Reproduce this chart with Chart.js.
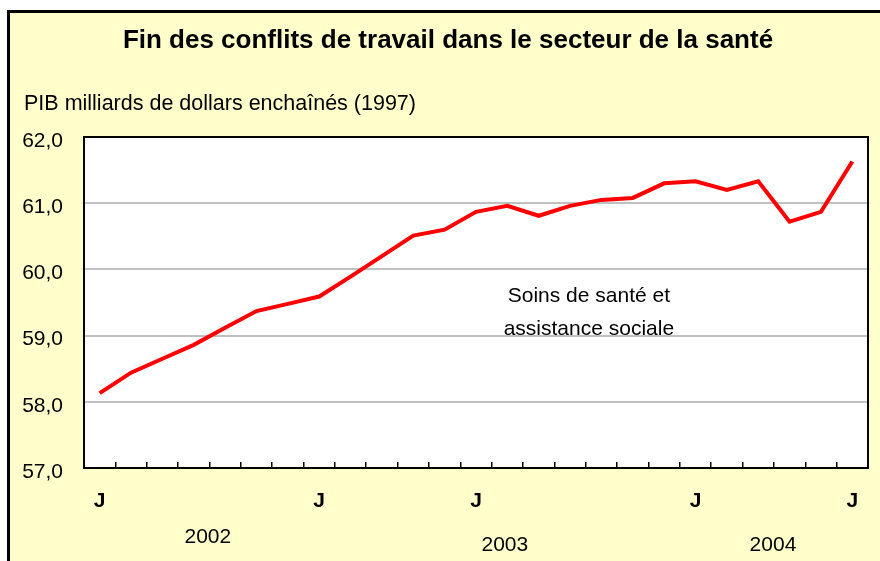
<!DOCTYPE html>
<html>
<head>
<meta charset="utf-8">
<script src="https://cdn.jsdelivr.net/npm/chart.js@4.4.0/dist/chart.umd.min.js"></script>
<style>
  html, body { margin: 0; padding: 0; background: #fff; overflow: hidden; }
  #frame { position: absolute; left: 7px; top: 10px; width: 900px; height: 600px;
           background: #FFFFCC; border-left: 3px solid #000; border-top: 3px solid #000; }
  #chart { position: absolute; left: 0; top: 0; }
</style>
</head>
<body>
<div id="frame"></div>
<canvas id="chart" width="880" height="561"></canvas>
<script>
// Data (monthly, June 2002 - June 2004)
const monthLabels = ['J','','','','','','','J','','','','','J','','','','','','','J','','','','','J'];
const gdpValues = [58.13, 58.44, 58.65, 58.86, 59.12, 59.37, 59.48, 59.59, 59.89, 60.20,
                   60.51, 60.60, 60.87, 60.96, 60.81, 60.96, 61.05, 61.08, 61.30, 61.33,
                   61.20, 61.33, 60.72, 60.87, 61.63];
const yearLabels = ['2002', '2003', '2004'];
const titleText = 'Fin des conflits de travail dans le secteur de la santé';
const unitText = 'PIB milliards de dollars enchaînés (1997)';
const seriesNote = ['Soins de santé et', 'assistance sociale'];

const FONT = "'Liberation Sans', Arial, sans-serif";

// Title, unit label, year row and the in-plot note
const textPlugin = {
    id: 'texts',
    afterDraw(chart, args, opts) {
        const ctx = chart.ctx;
        const xs = chart.scales.x;
        const ys = chart.scales.y;
        ctx.save();
        ctx.fillStyle = '#000';
        ctx.textBaseline = 'middle';

        ctx.font = 'bold 26px ' + FONT;
        ctx.textAlign = 'center';
        ctx.fillText(titleText, 448, 41);

        ctx.font = '21.5px ' + FONT;
        ctx.textAlign = 'left';
        ctx.fillText(unitText, 24, 104);

        ctx.font = '21px ' + FONT;
        ctx.textAlign = 'center';
        yearLabels.forEach((t, i) => {
            ctx.fillText(t, xs.getPixelForValue(opts.yearAt[i]), opts.yearY[i]);
        });

        seriesNote.forEach((t, i) => {
            ctx.fillText(t, xs.getPixelForValue(opts.noteAt), ys.getPixelForValue(opts.noteY[i]));
        });
        ctx.restore();
    }
};

// White plot background and black frame round it
const framePlugin = {
    id: 'plotFrame',
    beforeDraw(chart) {
        const a = chart.chartArea;
        const ctx = chart.ctx;
        ctx.save();
        ctx.fillStyle = '#fff';
        ctx.fillRect(a.left, a.top, a.right - a.left, a.bottom - a.top);
        ctx.restore();
    },
    beforeDatasetsDraw(chart) {
        const a = chart.chartArea;
        const ctx = chart.ctx;
        ctx.save();
        ctx.strokeStyle = '#000';
        ctx.lineWidth = 2;
        ctx.strokeRect(a.left, a.top, a.right - a.left, a.bottom - a.top);
        ctx.restore();
    }
};

new Chart(document.getElementById('chart'), {
    type: 'line',
    data: {
        labels: monthLabels,
        datasets: [{
            data: gdpValues,
            borderColor: '#FF0000',
            borderWidth: 4,
            pointRadius: 0,
            tension: 0,
            fill: false
        }]
    },
    options: {
        responsive: false,
        animation: false,
        events: [],
        layout: { padding: { left: 0, right: 12, top: 137, bottom: 0 } },
        scales: {
            x: {
                offset: true,
                grid: {
                    offset: true,
                    drawOnChartArea: false,
                    tickLength: -6,
                    color: '#000',
                    lineWidth: 1.5
                },
                border: { display: false },
                ticks: {
                    autoSkip: false,
                    maxRotation: 0,
                    padding: 27,
                    color: '#000',
                    font: { family: FONT, size: 21, weight: 'bold' }
                },
                afterFit(scale) {
                    scale.height = 93;
                    scale.paddingLeft = 0;
                    scale.paddingRight = 0;
                }
            },
            y: {
                min: 57,
                max: 62,
                grid: {
                    drawTicks: false,
                    lineWidth: 2,
                    color: (c) => (c.tick.value === 57 || c.tick.value === 62) ? 'rgba(0,0,0,0)' : '#C0C0C0'
                },
                border: { display: false },
                ticks: {
                    stepSize: 1,
                    padding: 21,
                    labelOffset: 4,
                    color: '#000',
                    font: { family: FONT, size: 21 },
                    callback: (v) => v.toFixed(1).replace('.', ',')
                },
                afterFit(scale) {
                    scale.width = 84;
                    scale.paddingTop = 0;
                    scale.paddingBottom = 0;
                }
            }
        },
        plugins: {
            legend: { display: false },
            tooltip: { enabled: false },
            texts: {
                yearAt: [3.45, 12.92, 21.47],
                yearY: [537, 545, 545],
                noteAt: 15.6,
                noteY: [59.6, 59.1]
            }
        }
    },
    plugins: [textPlugin, framePlugin]
});
</script>
</body>
</html>
